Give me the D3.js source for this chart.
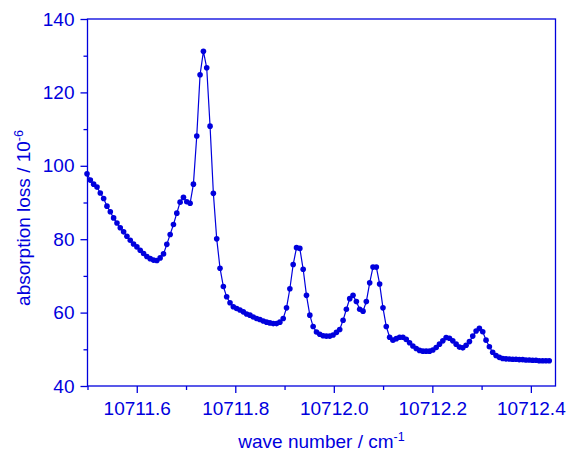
<!DOCTYPE html>
<html>
<head>
<meta charset="utf-8">
<script src="https://cdn.jsdelivr.net/npm/d3@7"></script>
<style>
  body { margin: 0; background: white; }
  text { font-family: "Liberation Sans", Arial, sans-serif; }
</style>
</head>
<body>
<div class="container"></div>
<script>
// wave number (cm-1) and absorption loss (1e-6)
const waveNumbers = [
  10711.4990, 10711.5058, 10711.5125, 10711.5193, 10711.5260, 10711.5328, 10711.5395, 10711.5463, 10711.5530, 10711.5598,
  10711.5665, 10711.5733, 10711.5800, 10711.5868, 10711.5935, 10711.6003, 10711.6070, 10711.6138, 10711.6205, 10711.6273,
  10711.6340, 10711.6408, 10711.6475, 10711.6543, 10711.6610, 10711.6678, 10711.6745, 10711.6813, 10711.6880, 10711.6948,
  10711.7015, 10711.7083, 10711.7150, 10711.7218, 10711.7285, 10711.7353, 10711.7420, 10711.7488, 10711.7555, 10711.7623,
  10711.7690, 10711.7758, 10711.7825, 10711.7893, 10711.7960, 10711.8028, 10711.8095, 10711.8163, 10711.8230, 10711.8298,
  10711.8365, 10711.8433, 10711.8500, 10711.8568, 10711.8635, 10711.8703, 10711.8770, 10711.8838, 10711.8905, 10711.8973,
  10711.9040, 10711.9108, 10711.9175, 10711.9243, 10711.9310, 10711.9378, 10711.9445, 10711.9513, 10711.9580, 10711.9648,
  10711.9715, 10711.9783, 10711.9850, 10711.9918, 10711.9985, 10712.0053, 10712.0120, 10712.0188, 10712.0255, 10712.0323,
  10712.0390, 10712.0458, 10712.0525, 10712.0593, 10712.0660, 10712.0728, 10712.0795, 10712.0863, 10712.0930, 10712.0998,
  10712.1065, 10712.1133, 10712.1200, 10712.1268, 10712.1335, 10712.1403, 10712.1470, 10712.1538, 10712.1605, 10712.1673,
  10712.1740, 10712.1808, 10712.1875, 10712.1943, 10712.2010, 10712.2078, 10712.2145, 10712.2213, 10712.2280, 10712.2348,
  10712.2415, 10712.2483, 10712.2550, 10712.2618, 10712.2685, 10712.2753, 10712.2820, 10712.2888, 10712.2955, 10712.3023,
  10712.3090, 10712.3158, 10712.3225, 10712.3293, 10712.3360, 10712.3428, 10712.3495, 10712.3563, 10712.3630, 10712.3698,
  10712.3765, 10712.3833, 10712.3900, 10712.3968, 10712.4035, 10712.4103, 10712.4170, 10712.4238, 10712.4305, 10712.4373
]
const losses = [
  97.8, 96.1, 95.0, 94.2, 92.6, 91.1, 89.0, 87.5, 85.8, 84.4,
  83.1, 82.0, 80.8, 79.7, 78.7, 77.9, 77.0, 76.1, 75.3, 74.7,
  74.3, 74.2, 74.9, 76.0, 78.6, 81.3, 84.0, 87.1, 90.1, 91.4,
  90.2, 89.8, 95.0, 108.1, 124.8, 131.2, 126.7, 110.8, 92.5, 80.1,
  72.1, 67.1, 64.3, 62.7, 61.6, 61.1, 60.7, 60.2, 59.6, 59.3,
  58.8, 58.4, 58.1, 57.7, 57.4, 57.2, 57.0, 57.0, 57.4, 58.4,
  61.3, 66.5, 73.1, 77.7, 77.5, 71.8, 64.7, 59.3, 56.2, 54.7,
  54.1, 53.7, 53.6, 53.6, 53.9, 54.6, 55.4, 57.9, 60.9, 63.8,
  64.7, 63.0, 60.9, 60.4, 63.0, 68.1, 72.4, 72.4, 67.8, 61.3,
  56.2, 53.3, 52.5, 52.9, 53.3, 53.3, 52.7, 51.8, 50.9, 50.2,
  49.7, 49.5, 49.5, 49.5, 49.8, 50.5, 51.4, 52.3, 53.2, 53.0,
  52.3, 51.4, 50.6, 50.4, 51.1, 52.1, 53.6, 55.0, 55.7, 54.8,
  52.5, 50.7, 49.2, 48.3, 47.8, 47.5, 47.4, 47.35, 47.3, 47.3,
  47.2, 47.2, 47.1, 47.1, 47.0, 47.0, 46.9, 46.9, 46.9, 46.9
]

const xMajor = [10711.6, 10711.8, 10712.0, 10712.2, 10712.4]
const xMinor = [10711.5, 10711.7, 10711.9, 10712.1, 10712.3]
const yMajor = [40, 60, 80, 100, 120, 140]
const yMinor = [50, 70, 90, 110, 130]

const size = {WIDTH: 568, HEIGHT: 452}
const margin = {left: 87.5, right: 12.5, top: 19, bottom: 66}
const azul = "#0000dd"

const datos = waveNumbers.map((w, i) => ({x: w, y: losses[i]}))

const svg = d3.select(".container")
              .append("svg")
              .attr("width", size.WIDTH)
              .attr("height", size.HEIGHT)

const xScale = d3.scaleLinear()
                 .domain([10711.5, 10712.45])
                 .range([margin.left, size.WIDTH - margin.right])
const yScale = d3.scaleLinear()
                 .domain([40, 140])
                 .range([size.HEIGHT - margin.bottom, margin.top])

// frame (top and right without ticks)
svg.append("rect")
   .attr("x", margin.left)
   .attr("y", margin.top)
   .attr("width", size.WIDTH - margin.left - margin.right)
   .attr("height", size.HEIGHT - margin.top - margin.bottom)
   .attr("fill", "none")
   .attr("stroke", azul)
   .attr("stroke-width", 1.3)

const estiloEje = (g) => {
    g.select(".domain").remove()
    g.selectAll("line").attr("stroke", azul).attr("stroke-width", 1.3)
    g.selectAll("text")
     .attr("fill", azul)
     .style("font-size", "19px")
     .style("font-family", "'Liberation Sans', Arial, sans-serif")
}

const bottom = size.HEIGHT - margin.bottom
svg.append("g")
   .attr("transform", `translate(0 ${bottom})`)
   .call(d3.axisBottom(xScale).tickValues(xMajor).tickSize(7).tickPadding(9)
           .tickFormat(d3.format(".1f")))
   .call(estiloEje)
svg.append("g")
   .attr("transform", `translate(0 ${bottom})`)
   .call(d3.axisBottom(xScale).tickValues(xMinor).tickSize(4).tickFormat(""))
   .call(estiloEje)

svg.append("g")
   .attr("transform", `translate(${margin.left} 0)`)
   .call(d3.axisLeft(yScale).tickValues(yMajor).tickSize(7).tickPadding(6))
   .call(estiloEje)
svg.append("g")
   .attr("transform", `translate(${margin.left} 0)`)
   .call(d3.axisLeft(yScale).tickValues(yMinor).tickSize(4).tickFormat(""))
   .call(estiloEje)

// axis titles
const tituloX = svg.append("text")
   .attr("x", (margin.left + size.WIDTH - margin.right) / 2)
   .attr("y", 448)
   .attr("text-anchor", "middle")
   .attr("fill", azul)
   .style("font-size", "19px")
tituloX.append("tspan").text("wave number / cm")
tituloX.append("tspan").text("-1").attr("dy", -7).style("font-size", "12.5px")

const tituloY = svg.append("text")
   .attr("transform", "translate(30 218) rotate(-90)")
   .attr("text-anchor", "middle")
   .attr("fill", azul)
   .style("font-size", "19px")
tituloY.append("tspan").text("absorption loss / 10")
tituloY.append("tspan").text("-6").attr("dy", -7).style("font-size", "12.5px")

const linea = d3.line()
                .x((d) => xScale(d.x))
                .y((d) => yScale(d.y))

svg.append("path")
   .attr("d", linea(datos))
   .attr("fill", "none")
   .attr("stroke", azul)
   .attr("stroke-width", 1.2)

svg.selectAll(".punto")
   .data(datos)
   .join("circle")
   .attr("class", "punto")
   .attr("cx", (d) => xScale(d.x))
   .attr("cy", (d) => yScale(d.y))
   .attr("r", 2.8)
   .attr("fill", azul)
</script>
</body>
</html>
